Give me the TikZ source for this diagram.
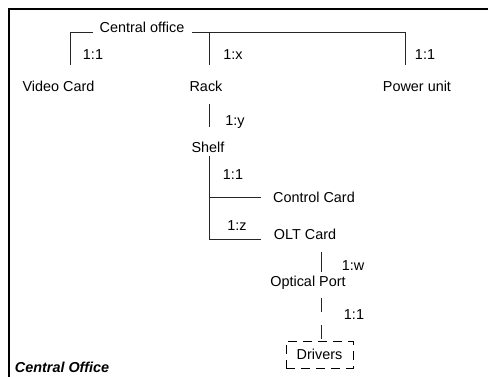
\documentclass[tikz,border=0pt]{standalone}
\usepackage{fontspec}
\setmainfont{Liberation Sans}
\begin{document}
\begin{tikzpicture}[x=1pt,y=-1pt,
  lbl/.style={inner sep=0pt,font=\fontsize{14.4}{16}\selectfont},
  conn/.style={line width=0.8pt,black!85},
  dconn/.style={conn,dash pattern=on 12pt off 12pt},
  frame/.style={line width=1.6pt,black}]
\useasboundingbox (0,0) rectangle (488,377);
\draw[frame] (9,377) -- (9,9) -- (489,9);

% texts
\node[lbl] (co) at (142,27) {Central office};
\node[lbl] (vc) at (58.5,86) {Video Card};
\node[lbl] (rack) at (206,86) {Rack};
\node[lbl] (pu) at (417,86) {Power unit};
\node[lbl] (r1) at (93,55) {1:1};
\node[lbl] (r2) at (233,55) {1:x};
\node[lbl] (r3) at (425,55) {1:1};
\node[lbl] (r4) at (235,122) {1:y};
\node[lbl] (shelf) at (208,147) {Shelf};
\node[lbl] (r5) at (233,175) {1:1};
\node[lbl] (cc) at (314,197) {Control Card};
\node[lbl] (r6) at (237,226) {1:z};
\node[lbl] (olt) at (305,234) {OLT Card};
\node[lbl] (r7) at (353,266) {1:w};
\node[lbl] (op) at (308,283) {Optical Port};
\node[lbl] (r8) at (354,315) {1:1};
\node[lbl,draw,dash pattern=on 9pt off 6pt,line width=0.8pt,minimum width=67pt,minimum height=27pt] (drv) at (319.5,354.5) {Drivers};
\node[lbl,font=\fontsize{14.4}{16}\selectfont\bfseries\itshape] (title) at (62,367) {Central Office};

% coordinates
\coordinate (a0) at (70,65);
\coordinate (a1) at (70,32);
\coordinate (a2) at (93,32);
\coordinate (b0) at (192,32);
\coordinate (b1) at (405,32);
\coordinate (b2) at (405,65);
\coordinate (c0) at (209,32);
\coordinate (c1) at (209,65);
\coordinate (d0) at (209,104);
\coordinate (d1) at (209,127);
\coordinate (e0) at (209,156);
\coordinate (e1) at (209,239);
\coordinate (e2) at (209,197);
\coordinate (f0) at (261,197);
\coordinate (f1) at (261,239);
\coordinate (g0) at (321,252);
\coordinate (g1) at (321,272);
\coordinate (h0) at (321,298);

\draw[conn] (a0) -- (a1) -- (a2);
\draw[conn] (b0) -- (b1) -- (b2);
\draw[conn] (c0) -- (c1);
\draw[conn] (d0) -- (d1);
\draw[conn] (e0) -- (e1) -- (f1);
\draw[conn] (e2) -- (f0);
\draw[conn] (g0) -- (g1);
\draw[dconn,dash pattern=on 14pt off 13pt] (h0) -- (drv.north -| h0);
\end{tikzpicture}
\end{document}
